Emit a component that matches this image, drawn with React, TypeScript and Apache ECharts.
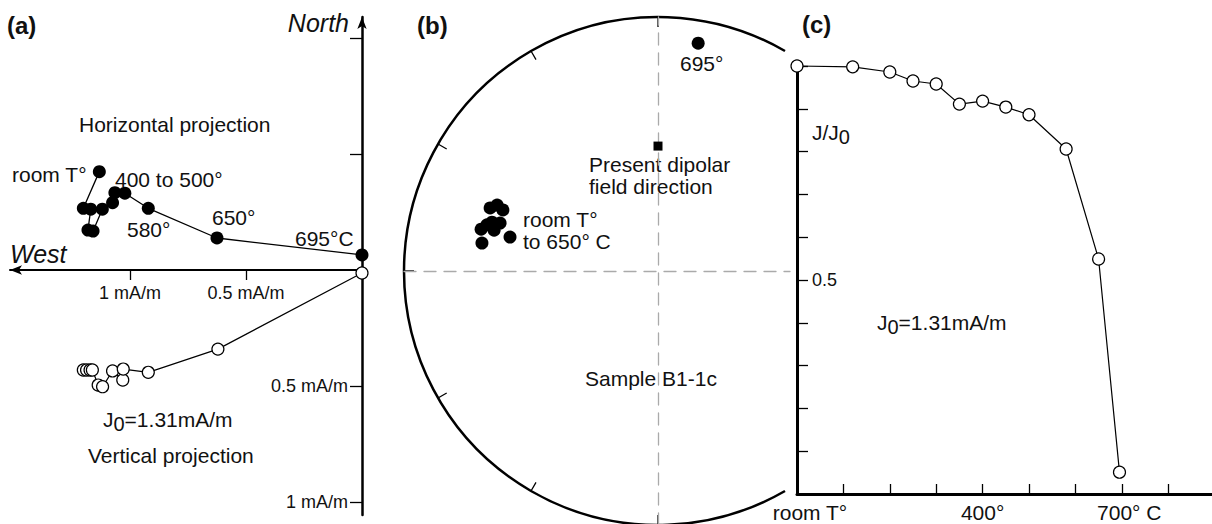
import React, { useEffect, useRef } from "react";
import * as echarts from "echarts";

// ---------- Panel (a): orthogonal projection, mA/m ----------
const HORIZ_WEST = [1.132, 1.201, 1.169, 1.181, 1.159, 1.119, 1.075, 1.065, 1.022, 0.921, 0.625, 0.0];
const HORIZ_NORTH = [0.424, 0.266, 0.262, 0.172, 0.168, 0.262, 0.29, 0.333, 0.331, 0.266, 0.138, 0.065];
const VERT_WEST = [1.201, 1.187, 1.172, 1.162, 1.137, 1.118, 1.075, 1.031, 1.029, 0.921, 0.621, 0.0];
const VERT_DOWN = [0.431, 0.431, 0.431, 0.431, 0.496, 0.503, 0.435, 0.474, 0.427, 0.441, 0.341, 0.013];
const WEST_TICKS = [0.5, 1];
const NORTH_TICKS = [0.5, 1];
const DOWN_TICKS = [-1, -0.5];

// ---------- Panel (b): equal-area stereonet (declination, inclination) ----------
const LOW_DEC = [290.6, 292.3, 291.5, 286.4, 286.9, 284.0, 283.3, 279.0, 282.9, 285.1];
const LOW_INC = [30.1, 32.1, 34.7, 32.4, 35.3, 33.9, 29.2, 30.5, 40.0, 30.9];
const HIGH_DEC = [10];
const HIGH_INC = [9.8];
const DIPOLE_DEC = [0];
const DIPOLE_INC = [49.3];
const NET_TICKS = [180, 210, 240, 270, 300, 330, 360];

// ---------- Panel (c): normalised intensity ----------
const TEMPS = [0, 120, 200, 250, 300, 350, 400, 450, 500, 580, 650, 695];
const J_RATIO = [1.0, 0.998, 0.986, 0.965, 0.958, 0.911, 0.918, 0.904, 0.886, 0.806, 0.549, 0.051];
const TEMP_LABELS = [0, 400, 700];
const RATIO_LABELS = [0.5];

const FONT = "'Liberation Sans', Arial, Helvetica, sans-serif";
const INK = "#111";

const eqArea = (dec: number, inc: number) => {
  const r = Math.SQRT2 * Math.sin(((90 - Math.abs(inc)) / 2) * (Math.PI / 180));
  const a = dec < 150 ? dec + 360 : dec;
  return [r, a];
};

const txt = (text: string, x: number, y: number, extra: any = {}) => ({
  type: "text",
  x,
  y,
  silent: true,
  style: {
    text,
    fill: INK,
    fontSize: 21,
    fontFamily: FONT,
    align: extra.align || "left",
    textAlign: extra.align || "left",
    verticalAlign: "middle",
    textVerticalAlign: "middle",
    ...extra,
  },
});

const subRich = {
  n: { fontSize: 21, fontFamily: FONT, color: INK, fill: INK },
  s: { fontSize: 20, fontFamily: FONT, color: INK, fill: INK, padding: [9, 0, 0, 0] },
};

const hidden = {
  axisLine: { show: false },
  axisTick: { show: false },
  axisLabel: { show: false },
  splitLine: { show: false },
};

function buildOption(): any {
  return {
    animation: false,
    backgroundColor: "#fff",
    textStyle: { fontFamily: FONT, color: INK },
    grid: [
      { left: 10, top: 17, width: 352, height: 253, outerBoundsMode: "none", containLabel: false },
      { left: 10, top: 270, width: 352, height: 245, outerBoundsMode: "none", containLabel: false },
      { left: 404, top: 17, width: 386, height: 508, outerBoundsMode: "none", containLabel: false },
      { left: 797, top: 66, width: 417.6, height: 428, outerBoundsMode: "none", containLabel: false },
    ],
    polar: { center: [658, 271], radius: 254 },
    angleAxis: {
      type: "value",
      min: 150,
      max: 390,
      startAngle: 300,
      endAngle: 60,
      clockwise: true,
      axisLine: { show: true, lineStyle: { color: "#000", width: 2.5 } },
      axisTick: {
        show: true,
        inside: true,
        length: 10,
        customValues: NET_TICKS,
        lineStyle: { color: "#000", width: 1.3 },
      },
      axisLabel: { show: false },
      splitLine: { show: false },
    },
    radiusAxis: { type: "value", min: 0, max: 1, ...hidden },
    xAxis: [
      {
        gridIndex: 0,
        type: "value",
        inverse: true,
        position: "bottom",
        min: 0,
        max: 1.517,
        axisLine: {
          onZero: false,
          symbol: ["arrow", "none"],
          symbolSize: [7, 12],
          lineStyle: { color: "#000", width: 2 },
        },
        axisTick: { customValues: WEST_TICKS, length: 10, lineStyle: { color: "#000", width: 1.3 } },
        axisLabel: {
          customValues: WEST_TICKS,
          formatter: (v: number) => `${v} mA/m`,
          fontSize: 18,
          color: INK,
          margin: 14,
        },
        splitLine: { show: false },
      },
      { gridIndex: 1, type: "value", inverse: true, min: 0, max: 1.517, ...hidden },
      {
        gridIndex: 2,
        type: "value",
        min: -1,
        max: 0.5197,
        axisLine: { onZero: true, lineStyle: { color: "#aaa", width: 1.3, type: [12, 8] } },
        axisTick: { show: false },
        axisLabel: { show: false },
        splitLine: { show: false },
      },
      {
        gridIndex: 3,
        type: "value",
        min: 0,
        max: 900,
        interval: 100,
        axisLine: { onZero: false, lineStyle: { color: "#000", width: 3 } },
        axisTick: { inside: true, length: 10, lineStyle: { color: "#000", width: 1.3 } },
        axisLabel: {
          customValues: TEMP_LABELS,
          fontSize: 21,
          color: INK,
          margin: 8,
          formatter: (v: number) =>
            v === 0 ? "{r|room T°}" : v === 700 ? "{e|700° C}" : `{m|${v}°}`,
          rich: {
            r: { fontSize: 21, fontFamily: FONT, color: INK, padding: [0, 0, 0, 26] },
            e: { fontSize: 21, fontFamily: FONT, color: INK, padding: [0, 0, 0, 15] },
            m: { fontSize: 21, fontFamily: FONT, color: INK },
          },
        },
        splitLine: { show: false },
      },
    ],
    yAxis: [
      {
        gridIndex: 0,
        type: "value",
        position: "right",
        min: 0,
        max: 1.0905,
        axisLine: {
          onZero: false,
          symbol: ["none", "arrow"],
          symbolSize: [7, 12],
          lineStyle: { color: "#000", width: 2.5 },
        },
        axisTick: {
          inside: true,
          customValues: NORTH_TICKS,
          length: 12,
          lineStyle: { color: "#000", width: 1.3 },
        },
        axisLabel: { show: false },
        splitLine: { show: false },
      },
      {
        gridIndex: 1,
        type: "value",
        position: "right",
        min: -1.056,
        max: 0,
        axisLine: { onZero: false, lineStyle: { color: "#000", width: 2.5 } },
        axisTick: {
          inside: true,
          customValues: DOWN_TICKS,
          length: 12,
          lineStyle: { color: "#000", width: 1.3 },
        },
        axisLabel: {
          inside: true,
          customValues: DOWN_TICKS,
          formatter: (v: number) => `${Math.abs(v)} mA/m`,
          fontSize: 18,
          color: INK,
          margin: 14,
        },
        splitLine: { show: false },
      },
      {
        gridIndex: 2,
        type: "value",
        min: -1,
        max: 1,
        axisLine: { onZero: true, lineStyle: { color: "#aaa", width: 1.3, type: [12, 8] } },
        axisTick: { show: false },
        axisLabel: { show: false },
        splitLine: { show: false },
      },
      {
        gridIndex: 3,
        type: "value",
        min: 0,
        max: 1,
        interval: 0.1,
        axisLine: { onZero: false, lineStyle: { color: "#000", width: 3 } },
        axisTick: { inside: true, length: 11, lineStyle: { color: "#000", width: 1.3 } },
        axisLabel: {
          inside: true,
          customValues: RATIO_LABELS,
          formatter: (v: number) => `${v}`,
          fontSize: 18,
          color: INK,
          margin: 15,
        },
        splitLine: { show: false },
      },
    ],
    series: [
      {
        name: "Horizontal projection",
        type: "line",
        xAxisIndex: 0,
        yAxisIndex: 0,
        clip: false,
        data: HORIZ_WEST.map((w, i) => [w, HORIZ_NORTH[i]]),
        symbol: "circle",
        symbolSize: 13,
        itemStyle: { color: "#000", opacity: 1 },
        lineStyle: { color: "#000", width: 1.3 },
        z: 4,
      },
      {
        name: "Vertical projection",
        type: "line",
        xAxisIndex: 1,
        yAxisIndex: 1,
        clip: false,
        data: VERT_WEST.map((w, i) => [w, -VERT_DOWN[i]]),
        symbol: "circle",
        symbolSize: 12,
        itemStyle: { color: "#fff", borderColor: "#000", borderWidth: 1.2, opacity: 1 },
        lineStyle: { color: "#000", width: 1.2 },
        z: 4,
      },
      {
        name: "room T to 650",
        type: "scatter",
        coordinateSystem: "polar",
        data: LOW_DEC.map((d, i) => eqArea(d, LOW_INC[i])),
        symbol: "circle",
        symbolSize: 13,
        itemStyle: { color: "#000", opacity: 1 },
        z: 4,
      },
      {
        name: "695",
        type: "scatter",
        coordinateSystem: "polar",
        data: HIGH_DEC.map((d, i) => eqArea(d, HIGH_INC[i])),
        symbol: "circle",
        symbolSize: 13,
        itemStyle: { color: "#000", opacity: 1 },
        z: 4,
      },
      {
        name: "Present dipolar field",
        type: "scatter",
        coordinateSystem: "polar",
        data: DIPOLE_DEC.map((d, i) => eqArea(d, DIPOLE_INC[i])),
        symbol: "rect",
        symbolSize: 9,
        itemStyle: { color: "#000", opacity: 1 },
        z: 4,
      },
      {
        name: "J/J0",
        type: "line",
        xAxisIndex: 3,
        yAxisIndex: 3,
        clip: false,
        data: TEMPS.map((t, i) => [t, J_RATIO[i]]),
        symbol: "circle",
        symbolSize: 12,
        itemStyle: { color: "#fff", borderColor: "#000", borderWidth: 1.2, opacity: 1 },
        lineStyle: { color: "#000", width: 1.2 },
        z: 4,
      },
    ],
    graphic: [
      // panel (a)
      txt("(a)", 7, 25, { fontSize: 24, fontWeight: "bold" }),
      txt("North", 349, 23, { fontSize: 25, fontStyle: "italic", align: "right" }),
      txt("West", 10, 254, { fontSize: 25, fontStyle: "italic" }),
      txt("Horizontal projection", 79, 124),
      txt("room T°", 12, 174),
      txt("400 to 500°", 115, 179),
      txt("580°", 127, 229),
      txt("650°", 212, 217),
      txt("695°C", 295, 238),
      txt("{n|J}{s|0}{n|=1.31mA/m}", 103, 419, { rich: subRich }),
      txt("Vertical projection", 88, 455),
      // panel (b)
      txt("(b)", 417, 25, { fontSize: 24, fontWeight: "bold" }),
      txt("695°", 680, 63),
      txt("Present dipolar", 589, 164),
      txt("field direction", 589, 186),
      txt("room T°", 523, 219),
      txt("to 650° C", 523, 241),
      txt("Sample B1-1c", 585, 378),
      // panel (c)
      txt("(c)", 802, 24, { fontSize: 24, fontWeight: "bold" }),
      txt("{n|J/J}{s|0}", 812, 132, { rich: subRich }),
      txt("{n|J}{s|0}{n|=1.31mA/m}", 877, 322, { rich: subRich }),
    ],
  };
}

export default function App() {
  const ref = useRef<HTMLDivElement>(null);
  useEffect(() => {
    if (!ref.current) return;
    const chart = echarts.init(ref.current, null, { renderer: "svg", width: 1212, height: 524 });
    chart.setOption(buildOption());
    return () => chart.dispose();
  }, []);
  return (
    <div
      ref={ref}
      style={{ position: "fixed", left: 0, top: 0, width: 1212, height: 524, background: "#fff" }}
    />
  );
}
